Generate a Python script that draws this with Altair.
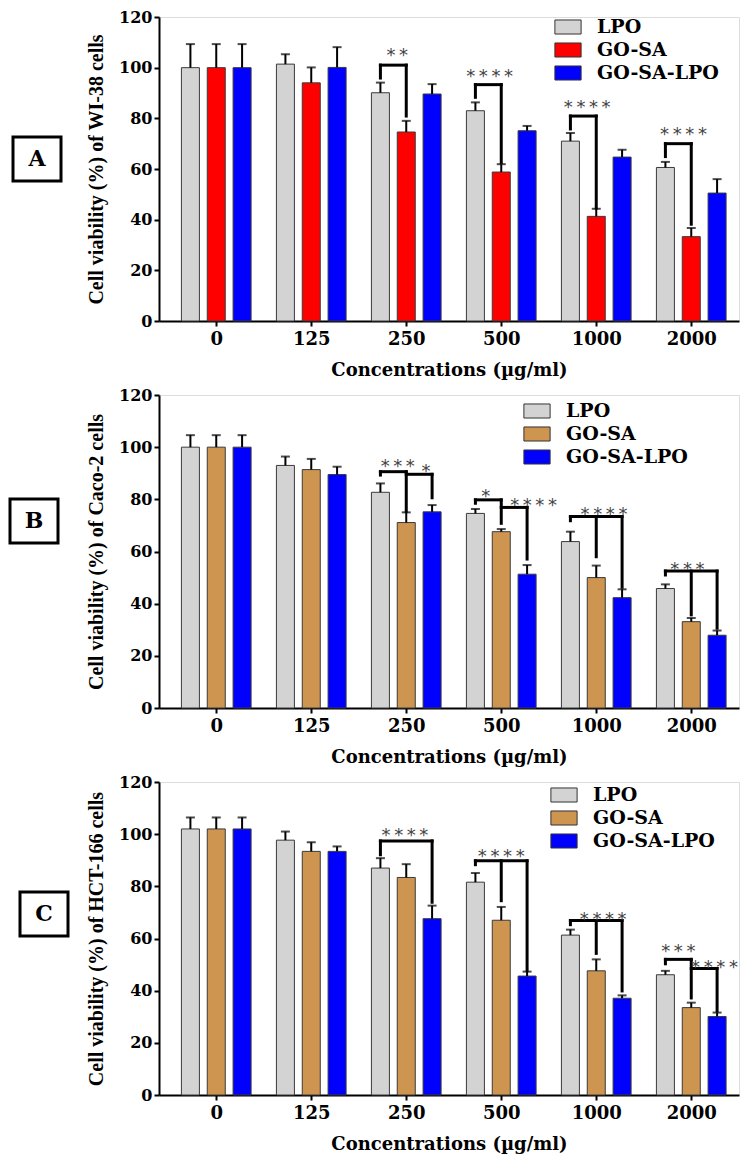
import json
import altair as alt
import pandas as pd

# ---------------- data ----------------
concentrations = ["0", "125", "250", "500", "1000", "2000"]
series = ["LPO", "GO-SA", "GO-SA-LPO"]

# Panel A : WI-38 cells
a_lpo = [100.0, 101.4, 90.1, 83.0, 71.0, 60.6]
a_lpo_sd = [9.3, 3.9, 4.0, 3.3, 3.2, 2.2]
a_gosa = [100.0, 94.0, 74.6, 58.8, 41.3, 33.3]
a_gosa_sd = [9.3, 6.1, 4.4, 3.1, 3.0, 3.4]
a_gosalpo = [100.0, 100.1, 89.6, 75.1, 64.7, 50.5]
a_gosalpo_sd = [9.3, 8.0, 3.9, 1.9, 2.9, 5.5]

# Panel B : Caco-2 cells
b_lpo = [100.0, 93.0, 82.7, 74.6, 63.8, 45.8]
b_lpo_sd = [4.6, 3.4, 3.4, 1.7, 3.8, 1.6]
b_gosa = [100.0, 91.4, 71.1, 67.6, 50.0, 33.1]
b_gosa_sd = [4.6, 4.1, 3.9, 1.0, 4.6, 1.4]
b_gosalpo = [100.0, 89.5, 75.2, 51.3, 42.3, 27.9]
b_gosalpo_sd = [4.6, 3.0, 2.6, 3.5, 3.2, 1.8]

# Panel C : HCT-166 cells
c_lpo = [102.0, 97.7, 87.0, 81.6, 61.3, 46.1]
c_lpo_sd = [4.4, 3.3, 3.8, 3.5, 2.1, 1.5]
c_gosa = [102.0, 93.4, 83.4, 67.0, 47.6, 33.5]
c_gosa_sd = [4.4, 3.5, 5.1, 5.1, 4.4, 1.9]
c_gosalpo = [102.0, 93.4, 67.6, 45.6, 37.1, 30.1]
c_gosalpo_sd = [4.4, 1.9, 5.0, 1.7, 1.1, 1.5]

# significance brackets: horizontal bars (conc, from series idx, to series idx, level)
a_hbars = [("250", 0, 1, 101.0), ("500", 0, 1, 93.3), ("1000", 0, 1, 80.9), ("2000", 0, 1, 70.0)]
a_legs = [("250", 0, 95.9, 101.0), ("250", 1, 80.9, 101.0),
          ("500", 0, 88.3, 93.3), ("500", 1, 62.6, 93.3),
          ("1000", 0, 75.8, 80.9), ("1000", 1, 44.6, 80.9),
          ("2000", 0, 64.9, 70.0), ("2000", 1, 38.2, 70.0)]
a_stars = [("250", 0.65, 106.8, "**"), ("500", 0.55, 98.5, "****"),
           ("1000", 0.65, 86.3, "****"), ("2000", 0.7, 75.8, "****")]

b_hbars = [("250", 0, 1, 90.6), ("250", 1, 2, 89.6), ("500", 0, 1, 79.8), ("500", 1, 2, 76.9),
           ("1000", 0, 2, 73.4), ("2000", 0, 2, 52.5)]
b_legs = [("250", 0, 89.3, 90.6), ("250", 1, 75.4, 90.6), ("250", 2, 80.6, 89.6),
          ("500", 0, 78.5, 79.8), ("500", 1, 70.8, 79.8), ("500", 2, 57.1, 76.9),
          ("1000", 0, 71.8, 73.4), ("1000", 1, 58.0, 73.4), ("1000", 2, 46.3, 73.4),
          ("2000", 0, 51.0, 52.5), ("2000", 1, 35.7, 52.5), ("2000", 2, 30.6, 52.5)]
b_stars = [("250", 0.67, 94.7, "***"), ("250", 1.76, 92.8, "*"), ("500", 0.4, 83.2, "*"),
           ("500", 2.25, 79.8, "****"), ("1000", 1.3, 76.2, "****"), ("2000", 0.85, 55.1, "***")]

c_hbars = [("250", 0, 2, 97.4), ("500", 0, 2, 89.8), ("1000", 0, 2, 66.9),
           ("2000", 0, 1, 52.0), ("2000", 1, 2, 48.5)]
c_legs = [("250", 0, 92.1, 97.4), ("250", 2, 73.9, 97.4),
          ("500", 0, 88.3, 89.8), ("500", 1, 74.5, 89.8), ("500", 2, 47.8, 89.8),
          ("1000", 0, 65.3, 66.9), ("1000", 1, 54.3, 66.9), ("1000", 2, 39.9, 66.9),
          ("2000", 0, 50.3, 52.0), ("2000", 1, 37.2, 52.0), ("2000", 2, 32.2, 48.5)]
c_stars = [("250", 0.95, 101.6, "****"), ("500", 1.0, 93.6, "****"), ("1000", 1.27, 69.4, "****"),
           ("2000", 0.5, 57.1, "***"), ("2000", 1.9, 50.9, "****")]

panel_labels = ["A", "B", "C"]
y_titles = ["Cell viability (%) of WI-38 cells",
            "Cell viability (%) of Caco-2 cells",
            "Cell viability (%) of HCT-166 cells"]

# ---------------- styling ----------------
OFF = 0.272          # offset between bars of a group (x units)
BAR_W = 18
W = 580
SERIF = "DejaVu Serif"
TIMES = "Liberation Serif"
RECT = "M-1.4,-0.75H1.4V0.75H-1.4Z"
label_expr = json.dumps(concentrations) + "[datum.value]"

x_scale = alt.Scale(domain=[-0.55, 5.45], nice=False, zero=False)
y_scale = alt.Scale(domain=[0, 120], nice=False)


def x_axis():
    return alt.Axis(values=list(range(len(concentrations))), labelExpr=label_expr,
                    title="Concentrations (µg/ml)", grid=False,
                    domainColor="black", domainWidth=2, tickColor="black", tickWidth=2,
                    tickSize=5, labelFont=SERIF, labelFontWeight="bold", labelFontSize=18,
                    labelColor="black", labelPadding=4, labelFlush=False,
                    titleFont=SERIF, titleFontWeight="bold", titleFontSize=18,
                    titleColor="black", titlePadding=13)


def y_axis(title):
    return alt.Axis(values=list(range(0, 121, 20)), title=title, grid=False,
                    domainColor="black", domainWidth=2, tickColor="black", tickWidth=2,
                    tickSize=5, labelFont=SERIF, labelFontWeight="bold", labelFontSize=16,
                    labelColor="black", labelPadding=2,
                    titleFont=TIMES, titleFontWeight="bold", titleFontSize=20,
                    titleColor="black", titlePadding=12)


def make_panel(idx, means, sds, colors, hbars, legs, stars, legend_xy, box_xy, height):
    rows = []
    for si, s in enumerate(series):
        for gi, c in enumerate(concentrations):
            rows.append(dict(conc=c, gi=gi, series=s, si=si, mean=means[si][gi], sd=sds[si][gi]))
    df = pd.DataFrame(rows)

    base = alt.Chart(df).transform_calculate(
        xpos=f"datum.gi + (datum.si - 1) * {OFF}",
        upper="datum.mean + datum.sd",
    )
    bars = base.mark_bar(size=BAR_W, stroke="#3a3a3a", strokeWidth=1).encode(
        x=alt.X("xpos:Q", scale=x_scale, axis=x_axis()),
        y=alt.Y("mean:Q", scale=y_scale, axis=y_axis(y_titles[idx])),
        color=alt.Color("series:N", scale=alt.Scale(domain=series, range=colors),
                        legend=alt.Legend(orient="none", legendX=legend_xy[0], legendY=legend_xy[1],
                                          title=None, symbolType=RECT, symbolSize=350,
                                          symbolStrokeColor="#333", symbolStrokeWidth=1,
                                          labelFont=SERIF, labelFontWeight="bold",
                                          labelFontSize=19, labelColor="black",
                                          labelOffset=19, rowPadding=3)),
    )
    stems = base.mark_rule(color="black", strokeWidth=2).encode(
        x="xpos:Q", y="mean:Q", y2="upper:Q")
    caps = base.mark_tick(orient="horizontal", color="black", size=9, thickness=2).encode(
        x="xpos:Q", y="upper:Q")

    hb = pd.DataFrame([dict(gi=concentrations.index(c), s0=a, s1=b, lvl=l) for c, a, b, l in hbars])
    hrule = alt.Chart(hb).transform_calculate(
        x0=f"datum.gi + (datum.s0 - 1) * {OFF}",
        x1=f"datum.gi + (datum.s1 - 1) * {OFF}",
    ).mark_rule(color="black", strokeWidth=3, strokeCap="square").encode(
        x="x0:Q", x2="x1:Q", y="lvl:Q")

    lg = pd.DataFrame([dict(gi=concentrations.index(c), s=s, lo=lo, hi=hi) for c, s, lo, hi in legs])
    vrule = alt.Chart(lg).transform_calculate(
        xl=f"datum.gi + (datum.s - 1) * {OFF}",
    ).mark_rule(color="black", strokeWidth=3, strokeCap="square").encode(
        x="xl:Q", y="lo:Q", y2="hi:Q")

    st = pd.DataFrame([dict(gi=concentrations.index(c), s=s, yy=y, txt="\u2009".join(t))
                       for c, s, y, t in stars])
    stext = alt.Chart(st).transform_calculate(
        xs=f"datum.gi + (datum.s - 1) * {OFF}",
    ).mark_text(font="DejaVu Sans", fontSize=18, color="#444", baseline="alphabetic",
                align="center", dy=11).encode(x="xs:Q", y="yy:Q", text="txt:N")

    lab = pd.DataFrame({"label": [panel_labels[idx]]})
    bx, by = box_xy
    box = alt.Chart(lab).mark_rect(fill="white", stroke="black", strokeWidth=3).encode(
        x=alt.value(bx - 24), x2=alt.value(bx + 24), y=alt.value(by - 22), y2=alt.value(by + 22))
    btxt = alt.Chart(lab).mark_text(font=SERIF, fontWeight="bold", fontSize=22, color="black",
                                    align="center", baseline="middle").encode(
        x=alt.value(bx), y=alt.value(by), text="label:N")

    return alt.layer(bars, stems, caps, hrule, vrule, stext, box, btxt).properties(width=W, height=height)


pA = make_panel(0, [a_lpo, a_gosa, a_gosalpo], [a_lpo_sd, a_gosa_sd, a_gosalpo_sd],
                ["#d3d3d3", "#ff0000", "#0000ff"], a_hbars, a_legs, a_stars, (399, 0), (-122, 142), 304)
pB = make_panel(1, [b_lpo, b_gosa, b_gosalpo], [b_lpo_sd, b_gosa_sd, b_gosalpo_sd],
                ["#d3d3d3", "#cd9550", "#0000ff"], b_hbars, b_legs, b_stars, (368, 6), (-125, 126), 313)
pC = make_panel(2, [c_lpo, c_gosa, c_gosalpo], [c_lpo_sd, c_gosa_sd, c_gosalpo_sd],
                ["#d3d3d3", "#cd9550", "#0000ff"], c_hbars, c_legs, c_stars, (395, 3), (-115, 132), 313)

chart = alt.vconcat(pA, pB, pC, spacing=6).resolve_scale(color="independent").properties(
    padding={"left": 0, "top": 0, "right": 0, "bottom": 0}
).configure_view(stroke=None).configure(background="white")

chart.save("out.html", embed_options={"renderer": "svg", "actions": False})
